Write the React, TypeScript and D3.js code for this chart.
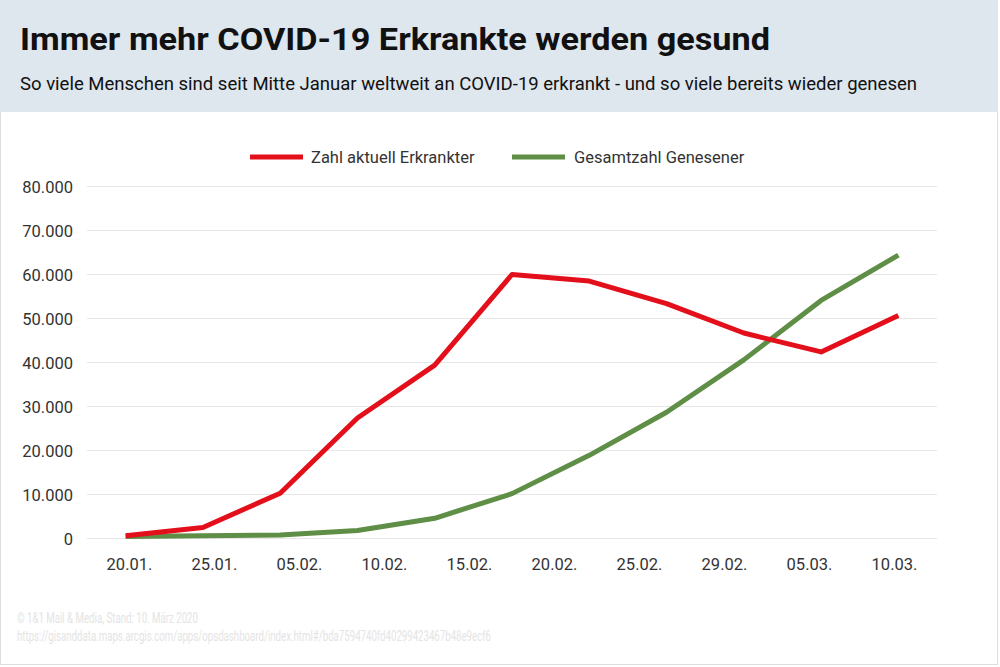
import React from 'react';
import * as d3 from 'd3';

// x-axis tick labels (10 labels, the lines have 11 points)
const tickLabels = ['20.01.', '25.01.', '05.02.', '10.02.', '15.02.', '20.02.', '25.02.', '29.02.', '05.03.', '10.03.'];
const pointIndex = [0, 1, 2, 3, 4, 5, 6, 7, 8, 9, 10];

const erkrankte = [600, 2500, 10300, 27400, 39400, 60000, 58500, 53400, 46700, 42400, 50700];
const genesene = [450, 600, 800, 1800, 4600, 10200, 18900, 28700, 40600, 54100, 64400];

const yTicks = [0, 10000, 20000, 30000, 40000, 50000, 60000, 70000, 80000];

const series = [
  { name: 'Zahl aktuell Erkrankter', values: erkrankte, color: '#e3101b' },
  { name: 'Gesamtzahl Genesener', values: genesene, color: '#5f8e47' },
];

const W = 1000;
const H = 667;
const FONT = 'Roboto, "Noto Sans", sans-serif';

const fmt = (v: number) => d3.format(',')(v).replace(/,/g, '.');

export default function App() {
  const x0 = 87;
  const x1 = 937;
  const labelScale = d3.scaleBand<string>().domain(tickLabels).range([x0, x1]);
  const xScale = d3.scalePoint<number>().domain(pointIndex).range([x0, x1]).padding(0.5);
  const yScale = d3.scaleLinear().domain([0, 80000]).range([538.5, 186.5]);

  const line = d3
    .line<number>()
    .x((_, i) => xScale(i) as number)
    .y((d) => yScale(d));

  return (
    <svg
      width={W}
      height={H}
      style={{ position: 'absolute', left: 0, top: 0, background: '#fff' }}
      fontFamily={FONT}
    >
      <rect x={0.5} y={0.5} width={997} height={664} fill="#fff" stroke="#dedede" />
      <rect x={0} y={0} width={998} height={112} fill="#dee6ee" />

      <text x={20} y={50} fontSize={32} fontWeight={700} fill="#111" textLength={750} lengthAdjust="spacingAndGlyphs">
        Immer mehr COVID-19 Erkrankte werden gesund
      </text>
      <text x={20} y={90} fontSize={17.5} fill="#111" textLength={897} lengthAdjust="spacingAndGlyphs">
        So viele Menschen sind seit Mitte Januar weltweit an COVID-19 erkrankt - und so viele bereits wieder genesen
      </text>

      {/* legend */}
      <g>
        <line x1={250} x2={303} y1={157} y2={157} stroke={series[0].color} strokeWidth={5} />
        <text x={311} y={163} fontSize={16.5} fill="#333">{series[0].name}</text>
        <line x1={512} x2={565} y1={157} y2={157} stroke={series[1].color} strokeWidth={5} />
        <text x={574} y={163} fontSize={16.5} fill="#333">{series[1].name}</text>
      </g>

      {/* grid + y labels */}
      {yTicks.map((t) => (
        <g key={t}>
          <line x1={x0} x2={x1} y1={yScale(t)} y2={yScale(t)} stroke="#e6e6e6" strokeWidth={1} />
          <text x={73} y={yScale(t) + 6} fontSize={16.5} fill="#333" textAnchor="end">
            {fmt(t)}
          </text>
        </g>
      ))}

      {/* x labels */}
      {tickLabels.map((l) => (
        <text
          key={l}
          x={(labelScale(l) as number) + labelScale.bandwidth() / 2}
          y={570}
          fontSize={16.5}
          fill="#333"
          textAnchor="middle"
        >
          {l}
        </text>
      ))}

      {/* lines */}
      {series
        .slice()
        .reverse()
        .map((s) => (
          <path
            key={s.name}
            d={line(s.values) || ''}
            fill="none"
            stroke={s.color}
            strokeWidth={5}
            strokeLinejoin="round"
          />
        ))}

      {/* footer */}
      <text x={17} y={623} fontSize={14} fill="#e4e4e4" textLength={181} lengthAdjust="spacingAndGlyphs">
        © 1&amp;1 Mail &amp; Media, Stand: 10. März 2020
      </text>
      <text x={17} y={641} fontSize={14} fill="#e4e4e4" textLength={474} lengthAdjust="spacingAndGlyphs">
        https://gisanddata.maps.arcgis.com/apps/opsdashboard/index.html#/bda7594740fd40299423467b48e9ecf6
      </text>
    </svg>
  );
}
